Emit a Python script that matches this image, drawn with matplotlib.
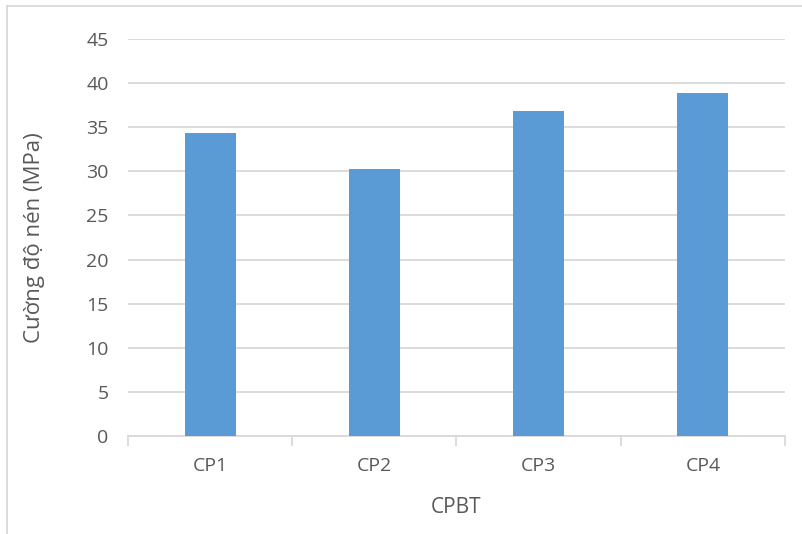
import matplotlib.pyplot as plt
import numpy as np
from matplotlib.lines import Line2D

plt.rcParams['font.family'] = ['Open Sans', 'DejaVu Sans']

samples = ['CP1', 'CP2', 'CP3', 'CP4']
strength = [34.3, 30.3, 36.8, 38.9]

text_col = '#595959'
grid_col = '#d9d9d9'

fig = plt.figure(figsize=(8.03, 5.34), dpi=100)
ax = fig.add_axes([128 / 803, 1 - 436 / 534, (785 - 128) / 803, (436 - 39) / 534])

x = np.arange(len(samples))
ax.bar(x, strength, width=0.31, color='#5b9bd5', zorder=3)

ax.set_xlim(-0.5, len(samples) - 0.5)
ax.set_ylim(0, 45)
ax.set_yticks(np.arange(0, 46, 5))
ax.yaxis.grid(True, color=grid_col, lw=1.3, zorder=0)

ax.set_xticks(x)
ax.set_xticklabels(samples)
ax.set_xticks(np.arange(-0.5, len(samples), 1), minor=True)
ax.tick_params(axis='x', which='major', length=0, pad=15, labelsize=14, labelcolor=text_col)
ax.tick_params(axis='x', which='minor', length=7, width=1.3, color=grid_col)
ax.tick_params(axis='y', length=0, pad=14, labelsize=14, labelcolor=text_col)

for side in ['top', 'right', 'left']:
    ax.spines[side].set_visible(False)
ax.spines['bottom'].set_color(grid_col)
ax.spines['bottom'].set_linewidth(1.3)

ax.set_xlabel('CPBT', fontsize=15, color=text_col, labelpad=16)
ax.set_ylabel('Cường độ nén (MPa)', fontsize=16, color=text_col)
ax.yaxis.set_label_coords(-83 / 657, 0.5)

# chart area frame (top and left edges)
fig.add_artist(Line2D([7 / 803, 7 / 803], [0, 1 - 6 / 534], color=grid_col, lw=1.3))
fig.add_artist(Line2D([7 / 803, 1], [1 - 6 / 534, 1 - 6 / 534], color=grid_col, lw=1.3))

fig.savefig('out.png', dpi=100)
